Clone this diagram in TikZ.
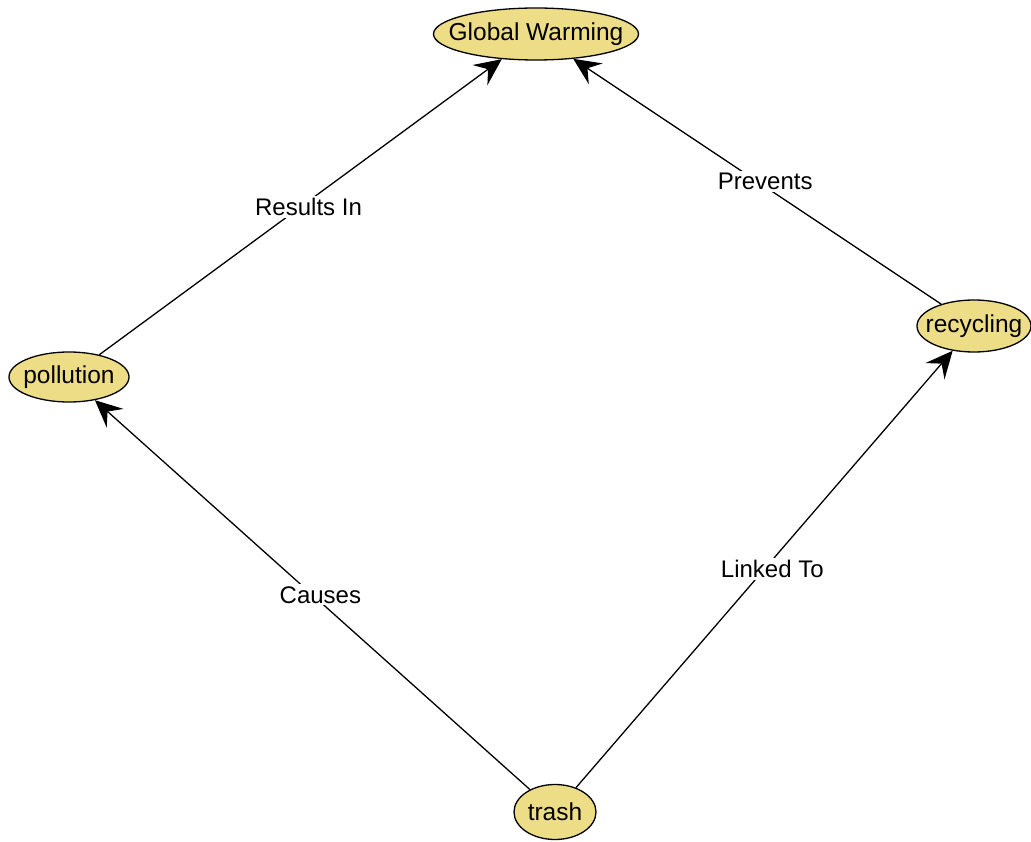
\documentclass[tikz,border=0pt]{standalone}
\usepackage{fontspec}
\setmainfont{Liberation Sans}
\usetikzlibrary{shapes.geometric,arrows.meta}
\definecolor{nodefill}{RGB}{238,221,135}
\begin{document}
\begin{tikzpicture}[x=1pt,y=-1pt,
  concept/.style={ellipse,draw=black,line width=1.3pt,fill=nodefill,inner sep=0pt,
    font=\fontsize{24.5}{28}\selectfont},
  link/.style={draw=black,line width=1.3pt,-{Stealth[length=27pt,width=25pt,inset=10pt]}},
  lbl/.style={fill=white,inner sep=2pt,xshift=8pt,font=\fontsize{24}{28}\selectfont}]
\useasboundingbox (0,0) rectangle (1031,842);
\node[concept,minimum width=205pt,minimum height=52pt] (gw) at (536,34) {\makebox[0pt]{Global Warming}};
\node[concept,minimum width=120pt,minimum height=50pt] (pol) at (69,377) {\makebox[0pt]{pollution}};
\node[concept,minimum width=114pt,minimum height=52pt] (rec) at (974,326) {\makebox[0pt]{recycling}};
\node[concept,minimum width=82pt,minimum height=55pt] (tr) at (555,812) {\makebox[0pt]{trash}};
\draw[link] (pol) -- node[lbl] {Results In} (gw);
\draw[link] (rec) -- node[lbl] {Prevents} (gw);
\draw[link] (tr) -- node[lbl] {Causes} (pol);
\draw[link] (tr) -- node[lbl] {Linked To} (rec);
\end{tikzpicture}
\end{document}
